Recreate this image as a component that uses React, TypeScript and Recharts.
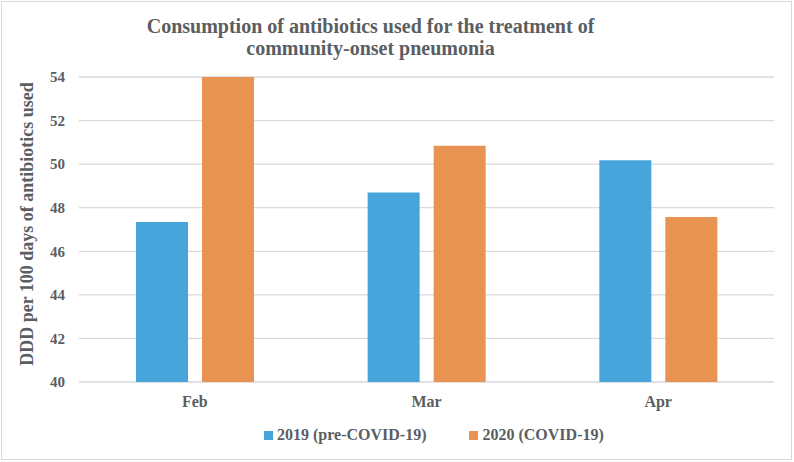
import React from 'react';
import { BarChart, Bar, XAxis, YAxis, CartesianGrid } from 'recharts';

const categories = ['Feb', 'Mar', 'Apr'];
const values2019 = [47.35, 48.7, 50.18];
const values2020 = [54.0, 50.84, 47.57];
const seriesNames = ['2019 (pre-COVID-19)', '2020 (COVID-19)'];
const yTicks = [40, 42, 44, 46, 48, 50, 52, 54];
const titleLines = ['Consumption of antibiotics used for the treatment of', 'community-onset pneumonia'];
const yLabel = 'DDD per 100 days of antibiotics used';

const COLORS = ['#48A5DB', '#E89352'];
const TEXT = '#5a5e62';
const FONT = '"Liberation Serif", "Times New Roman", serif';

const data = categories.map((c, i) => ({ cat: c, s2019: values2019[i], s2020: values2020[i] }));

export default function App() {
  return (
    <div style={{ position: 'absolute', left: 0, top: 0, width: 794, height: 462, background: '#fff', fontFamily: FONT }}>
      <div style={{ position: 'absolute', left: 1, top: 1, width: 791, height: 459, border: '1px solid #d9d9d9', boxSizing: 'border-box' }} />
      <div style={{ position: 'absolute', left: 0, top: 15, width: 741, textAlign: 'center', fontSize: 20, lineHeight: '22px', fontWeight: 'bold', color: TEXT }}>
        {titleLines.map((l) => (
          <div key={l}>{l}</div>
        ))}
      </div>
      <div style={{ position: 'absolute', left: 27, top: 224, transform: 'translate(-50%, -50%) rotate(-90deg)', whiteSpace: 'nowrap', fontSize: 18, fontWeight: 'bold', color: TEXT }}>
        {yLabel}
      </div>
      <div style={{ position: 'absolute', left: 0, top: 0 }}>
        <BarChart width={794} height={462} data={data} margin={{ top: 77, right: 20, left: 0, bottom: 0 }} barSize={52} barGap={14}>
          <CartesianGrid horizontal vertical={false} stroke="#d9d9de" strokeWidth={1.3} />
          <XAxis
            dataKey="cat"
            height={80}
            axisLine={false}
            tickLine={false}
            tickMargin={8}
            tick={{ fill: TEXT, fontSize: 16, fontWeight: 'bold', fontFamily: FONT }}
          />
          <YAxis
            width={79}
            domain={[40, 54]}
            ticks={yTicks}
            axisLine={false}
            tickLine={false}
            tickMargin={8}
            tick={{ fill: TEXT, fontSize: 15, fontWeight: 'bold', fontFamily: FONT }}
          />
          <Bar dataKey="s2019" name={seriesNames[0]} fill={COLORS[0]} isAnimationActive={false} />
          <Bar dataKey="s2020" name={seriesNames[1]} fill={COLORS[1]} isAnimationActive={false} />
        </BarChart>
      </div>
      <div style={{ position: 'absolute', left: 264, top: 425, display: 'flex', alignItems: 'center', fontSize: 16, fontWeight: 'bold', color: TEXT, lineHeight: '20px' }}>
        {seriesNames.map((n, i) => (
          <div key={n} style={{ display: 'flex', alignItems: 'center', marginRight: i === 0 ? 43 : 0 }}>
            <div style={{ width: 9, height: 9, background: COLORS[i], marginRight: 4 }} />
            <span>{n}</span>
          </div>
        ))}
      </div>
    </div>
  );
}
